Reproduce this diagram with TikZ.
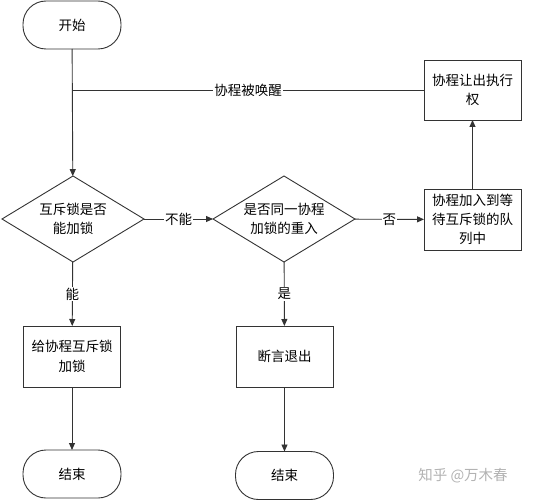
\documentclass[tikz,border=0pt]{standalone}
\usepackage{fontspec}
\setmainfont{Noto Sans CJK SC}
\usetikzlibrary{shapes.geometric,arrows.meta}
\begin{document}
\begin{tikzpicture}[x=1pt,y=-1pt,
  font=\fontsize{13.5}{19.5}\selectfont,
  every node/.style={inner sep=0pt, outer sep=0pt},
  lc/.style={draw=black!80, line width=0.9pt},
  term/.style={lc, rounded corners=23pt, minimum width=98pt, minimum height=48pt, align=center},
  proc/.style={lc, minimum width=97pt, minimum height=61pt, align=center},
  dec/.style={lc, diamond, aspect=1.65, minimum width=142pt, minimum height=86pt, align=center},
  arr/.style={lc, -{Triangle[length=7pt,width=6pt]}},
  lbl/.style={fill=white, inner sep=1pt}
]
\useasboundingbox (0,0) rectangle (543,500);
\node[term] (start) at (72,25) {开始};
\node[proc, minimum height=60pt] (yield) at (472.5,90) {协程让出执行\\权};
\node[dec] (d1) at (73,219) {互斥锁是否\\能加锁};
\node[dec] (d2) at (284,219) {是否同一协程\\加锁的重入};
\node[proc, minimum height=61pt, font=\fontsize{13.5}{19}\selectfont] (queue) at (472.5,219.5) {协程加入到等\\待互斥锁的队\\列中};
\node[proc] (lock) at (72,356.5) {给协程互斥锁\\加锁};
\node[proc] (assert) at (284.5,356.5) {断言退出};
\node[term] (end1) at (72,474) {结束};
\node[term] (end2) at (284.5,475.5) {结束};
\coordinate (j) at (start.south |- yield.west);
\draw[arr] (start) -- (d1);
\draw[lc] (yield.west) -- node[lbl] {协程被唤醒} (j);
\draw[arr] (d1) -- node[lbl] {不能} (d2);
\draw[arr] (d2) -- node[lbl] {否} (queue);
\draw[arr] (queue) -- (yield);
\draw[arr] (d1) -- node[lbl, pos=0.5] {能} (lock);
\draw[arr] (d2) -- node[lbl, pos=0.5] {是} (assert);
\draw[arr] (lock) -- (end1);
\draw[arr] (assert) -- (end2);
\node[text=black!30, font=\fontsize{14.5}{16}\selectfont] (wm) at (463,476) {知乎 @万木春};
\end{tikzpicture}
\end{document}
